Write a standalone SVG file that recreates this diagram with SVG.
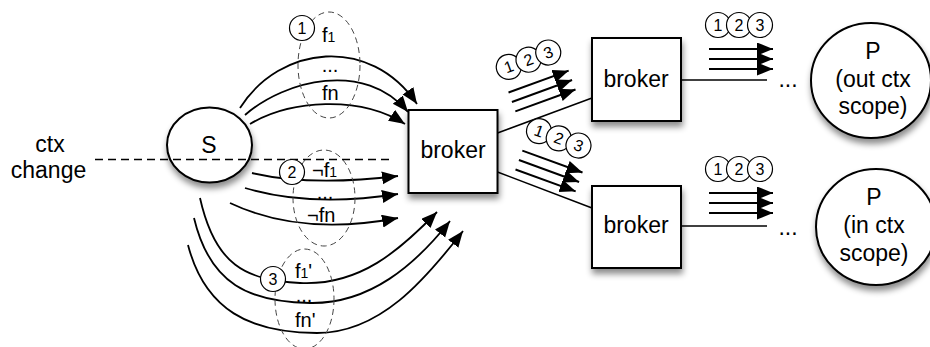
<svg xmlns="http://www.w3.org/2000/svg" width="930" height="347" viewBox="0 0 930 347">
<style>
text{font-family:"Liberation Sans",Arial,Helvetica,sans-serif;fill:#000}
.big{font-size:23px}
.lab{font-size:20px}
.sub{font-size:14px}
.dig{font-size:16px;text-anchor:middle}
.node{fill:#fff;stroke:#000;stroke-width:2}
.sc{fill:#fff;stroke:#000;stroke-width:1.2}
.arr{fill:none;stroke:#000;stroke-width:1.8}
.ln{fill:none;stroke:#000;stroke-width:1.5}
.bl{stroke:#000;stroke-width:2}
.grp{fill:none;stroke:#444;stroke-width:1;stroke-dasharray:6 4}
.mid{text-anchor:middle}
</style>
<defs>
<filter id="sh" x="-30%" y="-30%" width="170%" height="170%">
<feDropShadow dx="1" dy="5" stdDeviation="3" flood-color="#000" flood-opacity="0.45"/>
</filter>
<marker id="ah" markerUnits="userSpaceOnUse" markerWidth="17" markerHeight="14" refX="16" refY="6.5" orient="auto">
<path d="M0,0 L16,6.5 L0,13 Z" fill="#000"/>
</marker>
</defs>

<!-- nodes -->
<g id="node-S">
<ellipse class="node" cx="209.5" cy="145" rx="42.5" ry="37.5" filter="url(#sh)"/>
<text class="big mid" x="209" y="153">S</text>
</g>
<g id="node-broker-center">
<rect class="node" x="408.5" y="110" width="89" height="83" filter="url(#sh)"/>
<text class="big mid" x="453" y="158">broker</text>
</g>
<g id="node-broker-top">
<rect class="node" x="592" y="38" width="89" height="83" filter="url(#sh)"/>
<text class="big mid" x="636" y="87">broker</text>
</g>
<g id="node-broker-bottom">
<rect class="node" x="592" y="186" width="89" height="82" filter="url(#sh)"/>
<text class="big mid" x="636" y="233">broker</text>
</g>
<g id="node-P-out">
<ellipse class="node" cx="871" cy="80.5" rx="60" ry="57.5" filter="url(#sh)"/>
<text class="big mid" x="873" y="59">P</text>
<text class="big mid" x="873" y="87">(out ctx</text>
<text class="big mid" x="873" y="114">scope)</text>
</g>
<g id="node-P-in">
<ellipse class="node" cx="876" cy="227" rx="60" ry="58" filter="url(#sh)"/>
<text class="big mid" x="874" y="205">P</text>
<text class="big mid" x="874" y="233">(in ctx</text>
<text class="big mid" x="874" y="261">scope)</text>
</g>

<!-- context change -->
<g id="ctx-change">
<text class="big mid" x="50" y="152">ctx</text>
<text class="big mid" x="48.5" y="178">change</text>
<line x1="95" y1="159.5" x2="390" y2="159.5" stroke="#000" stroke-width="1.5" stroke-dasharray="8 5"/>
</g>

<!-- connectors -->
<g id="connectors">
<path class="arr" d="M240,108 C280,45 370,35 417,104" marker-end="url(#ah)"/>
<path class="arr" d="M245,115 C285,80 365,60 408,112" marker-end="url(#ah)"/>
<path class="arr" d="M250,124 C290,100 360,95 405,124" marker-end="url(#ah)"/>
<path class="arr" d="M252,173 C290,182 340,183 398,176" marker-end="url(#ah)"/>
<path class="arr" d="M245,188 C285,200 335,204 398,194" marker-end="url(#ah)"/>
<path class="arr" d="M230,203 C270,222 325,232 398,218" marker-end="url(#ah)"/>
<path class="arr" d="M200,198 C215,265 245,280 300,283 C360,286 400,250 437,212" marker-end="url(#ah)"/>
<path class="arr" d="M194,218 C210,285 250,302 310,303 C370,304 415,265 450,221" marker-end="url(#ah)"/>
<path class="arr" d="M188,245 C205,310 250,333 317,333 C380,333 425,280 463,231" marker-end="url(#ah)"/>
<line class="ln" x1="497.5" y1="133" x2="592" y2="98"/>
<line class="ln" x1="497.5" y1="172" x2="592" y2="208"/>
<line class="ln" x1="681" y1="80" x2="767" y2="80"/>
<line class="ln" x1="681" y1="226" x2="767" y2="226"/>
</g>

<!-- flow groups (dashed) -->
<g id="group-1">
<ellipse class="grp" cx="329" cy="65" rx="31" ry="53"/>
<circle class="sc" cx="302" cy="28" r="12.5"/>
<text class="dig" x="302" y="33.5">1</text>
<text class="lab" x="322" y="42">f<tspan class="sub">1</tspan></text>
<text class="lab mid" x="330" y="72">...</text>
<text class="lab" x="322" y="100">fn</text>
</g>
<g id="group-2">
<ellipse class="grp" cx="324" cy="198" rx="31" ry="48"/>
<circle class="sc" cx="292" cy="172" r="12.5"/>
<text class="dig" x="292" y="177.5">2</text>
<text class="lab" x="312" y="177">¬f<tspan class="sub">1</tspan></text>
<text class="lab mid" x="325" y="199">...</text>
<text class="lab" x="307" y="222">¬fn</text>
</g>
<g id="group-3">
<ellipse class="grp" cx="304.5" cy="299" rx="29.5" ry="50"/>
<circle class="sc" cx="273" cy="279" r="12.5"/>
<text class="dig" x="273" y="284.5">3</text>
<text class="lab" x="295" y="278">f<tspan class="sub">1</tspan>'</text>
<text class="lab mid" x="304" y="302">...</text>
<text class="lab" x="295" y="327">fn'</text>
</g>

<!-- message bundles -->
<g id="bundle-up" transform="translate(542,91) rotate(-20)">
<line class="bl" x1="-32" y1="-10" x2="32" y2="-10" marker-end="url(#ah)"/>
<line class="bl" x1="-32" y1="0" x2="32" y2="0" marker-end="url(#ah)"/>
<line class="bl" x1="-32" y1="10" x2="32" y2="10" marker-end="url(#ah)"/>
<circle class="sc" cx="-23" cy="-34" r="12.5"/><text class="dig" x="-23" y="-28.5">1</text>
<circle class="sc" cx="-2" cy="-34" r="12.5"/><text class="dig" x="-2" y="-28.5">2</text>
<circle class="sc" cx="19" cy="-34" r="12.5"/><text class="dig" x="19" y="-28.5">3</text>
</g>
<g id="bundle-down" transform="translate(549,171) rotate(20)">
<line class="bl" x1="-32" y1="-10" x2="32" y2="-10" marker-end="url(#ah)"/>
<line class="bl" x1="-32" y1="0" x2="32" y2="0" marker-end="url(#ah)"/>
<line class="bl" x1="-32" y1="10" x2="32" y2="10" marker-end="url(#ah)"/>
<circle class="sc" cx="-23" cy="-34" r="12.5"/><text class="dig" x="-23" y="-28.5">1</text>
<circle class="sc" cx="-2" cy="-34" r="12.5"/><text class="dig" x="-2" y="-28.5">2</text>
<circle class="sc" cx="19" cy="-34" r="12.5"/><text class="dig" x="19" y="-28.5">3</text>
</g>
<g id="bundle-top" transform="translate(741,59)">
<line class="bl" x1="-32" y1="-10" x2="32" y2="-10" marker-end="url(#ah)"/>
<line class="bl" x1="-32" y1="0" x2="32" y2="0" marker-end="url(#ah)"/>
<line class="bl" x1="-32" y1="10" x2="32" y2="10" marker-end="url(#ah)"/>
<circle class="sc" cx="-23" cy="-34" r="12.5"/><text class="dig" x="-23" y="-28.5">1</text>
<circle class="sc" cx="-2" cy="-34" r="12.5"/><text class="dig" x="-2" y="-28.5">2</text>
<circle class="sc" cx="19" cy="-34" r="12.5"/><text class="dig" x="19" y="-28.5">3</text>
</g>
<g id="bundle-bottom" transform="translate(741,203)">
<line class="bl" x1="-32" y1="-10" x2="32" y2="-10" marker-end="url(#ah)"/>
<line class="bl" x1="-32" y1="0" x2="32" y2="0" marker-end="url(#ah)"/>
<line class="bl" x1="-32" y1="10" x2="32" y2="10" marker-end="url(#ah)"/>
<circle class="sc" cx="-23" cy="-34" r="12.5"/><text class="dig" x="-23" y="-28.5">1</text>
<circle class="sc" cx="-2" cy="-34" r="12.5"/><text class="dig" x="-2" y="-28.5">2</text>
<circle class="sc" cx="19" cy="-34" r="12.5"/><text class="dig" x="19" y="-28.5">3</text>
</g>
<text class="big mid" x="788" y="87">...</text>
<text class="big mid" x="788" y="235">...</text>
</svg>
